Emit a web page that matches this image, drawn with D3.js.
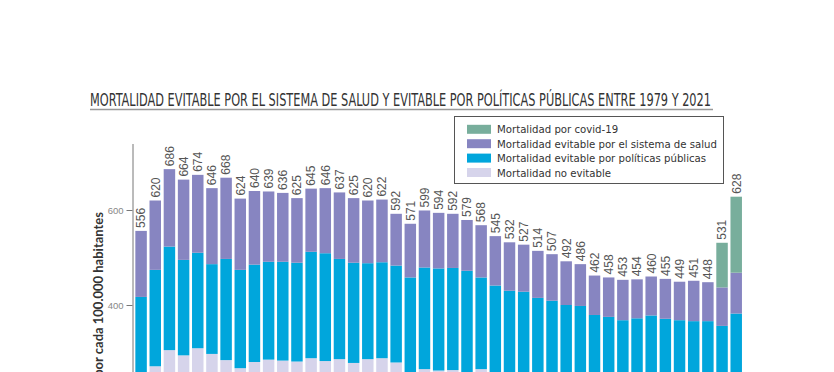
<!DOCTYPE html>
<html>
<head>
<meta charset="utf-8">
<script src="https://cdn.jsdelivr.net/npm/d3@7"></script>
<style>
    body { margin: 0; background: #fff; }
    svg { display: block; }
</style>
</head>
<body>
<div id="chart"></div>
<script>

// years on the x axis
const years = [1979, 1980, 1981, 1982, 1983, 1984, 1985, 1986, 1987, 1988, 1989, 1990, 1991, 1992, 1993,
    1994, 1995, 1996, 1997, 1998, 1999, 2000, 2001, 2002, 2003, 2004, 2005, 2006, 2007, 2008, 2009,
    2010, 2011, 2012, 2013, 2014, 2015, 2016, 2017, 2018, 2019, 2020, 2021];

// rates per 100.000 inhabitants
const noEvitable = [250, 271, 305, 294, 309, 297, 284, 267, 280, 285, 283, 281, 288, 282, 286,
    278, 286, 288, 279, 250, 265, 262, 263, 258, 265, 255, 252, 250, 248, 246, 245,
    243, 240, 238, 236, 235, 234, 232, 230, 229, 228, 226, 224];
const politicas = [167, 203, 218, 201, 201, 189, 213, 207, 205, 206, 208, 208, 224, 227, 211,
    211, 202, 202, 204, 208, 214, 215, 215, 214, 193, 186, 178, 178, 167, 163, 155,
    155, 139, 137, 132, 137, 144, 139, 138, 137, 138, 130, 158];
const sistema = [139, 146, 163, 169, 164, 160, 171, 150, 155, 148, 145, 136, 133, 137, 140,
    136, 132, 132, 109, 113, 120, 117, 114, 107, 110, 104, 102, 99, 99, 98, 92,
    88, 83, 83, 85, 82, 82, 84, 81, 85, 82, 81, 86];
const covid = [0, 0, 0, 0, 0, 0, 0, 0, 0, 0, 0, 0, 0, 0, 0,
    0, 0, 0, 0, 0, 0, 0, 0, 0, 0, 0, 0, 0, 0, 0, 0,
    0, 0, 0, 0, 0, 0, 0, 0, 0, 0, 94, 160];

// printed totals above each bar
const totals = [556, 620, 686, 664, 674, 646, 668, 624, 640, 639, 636, 625, 645, 646, 637,
    625, 620, 622, 592, 571, 599, 594, 592, 579, 568, 545, 532, 527, 514, 507, 492,
    486, 462, 458, 453, 454, 460, 455, 449, 451, 448, 531, 628];

const keys = ["noEvitable", "politicas", "sistema", "covid"];
const legendLabels = ["Mortalidad por covid-19", "Mortalidad evitable por el sistema de salud",
    "Mortalidad evitable por políticas públicas", "Mortalidad no evitable"];
const legendKeys = ["covid", "sistema", "politicas", "noEvitable"];
const yTicks = [400, 600];

const colors = {
    noEvitable: "#d6d4eb",
    politicas: "#00a6dc",
    sistema: "#8785c1",
    covid: "#78ae9c"
};

const width = 834, height = 372;

const svg = d3.select("#chart").append("svg")
    .attr("width", width)
    .attr("height", height)
    .style("overflow", "hidden");

// title
svg.append("text")
    .attr("x", 90)
    .attr("y", 105.5)
    .attr("textLength", 621)
    .attr("lengthAdjust", "spacingAndGlyphs")
    .style("font-family", "'Liberation Sans Narrow', 'DejaVu Sans Condensed', sans-serif")
    .style("font-size", "17.5px")
    .style("fill", "#333")
    .text("MORTALIDAD EVITABLE POR EL SISTEMA DE SALUD Y EVITABLE POR POLÍTICAS PÚBLICAS ENTRE 1979 Y 2021");

svg.append("line")
    .attr("x1", 90).attr("x2", 713)
    .attr("y1", 109.5).attr("y2", 109.5)
    .attr("stroke", "#999")
    .attr("stroke-width", 1.5);

// scales
const y = d3.scaleLinear()
    .domain([0, 740])
    .range([495, 143.5]);

const x = d3.scaleBand()
    .domain(years)
    .range([134, 743.3])
    .paddingInner(0.19)
    .paddingOuter(0.095);

// build table for the stack
const table = years.map((yr, i) => ({
    year: yr,
    noEvitable: noEvitable[i],
    politicas: politicas[i],
    sistema: sistema[i],
    covid: covid[i]
}));

const stacked = d3.stack().keys(keys)(table);

const layers = svg.append("g").attr("class", "bars")
    .selectAll("g")
    .data(stacked)
    .enter().append("g")
    .attr("fill", d => colors[d.key]);

layers.selectAll("rect")
    .data(d => d)
    .enter().append("rect")
    .attr("x", d => x(d.data.year))
    .attr("y", d => y(d[1]))
    .attr("width", x.bandwidth())
    .attr("height", d => y(d[0]) - y(d[1]));

// totals above bars
svg.append("g").attr("class", "labels")
    .selectAll("text")
    .data(years)
    .enter().append("text")
    .attr("transform", (d, i) => `translate(${x(d) + x.bandwidth() / 2}, ${y(totals[i]) - 3}) rotate(-90)`)
    .attr("dy", "0.36em")
    .style("font-family", "'Liberation Sans', Arial, sans-serif")
    .style("font-size", "12px")
    .style("fill", "#555")
    .text((d, i) => totals[i]);

// y axis
const yAxis = d3.axisLeft(y)
    .tickValues(yTicks)
    .tickSize(6)
    .tickSizeOuter(0);

const yAxisG = svg.append("g")
    .attr("class", "y-axis axis")
    .attr("transform", "translate(132.5,0)")
    .call(yAxis);

yAxisG.select(".domain").attr("stroke", "#777");
yAxisG.selectAll(".tick line").attr("stroke", "#777");
yAxisG.selectAll(".tick text")
    .attr("x", -9)
    .style("font-family", "'Liberation Sans', Arial, sans-serif")
    .style("font-size", "9.5px")
    .style("fill", "#888");

// axis title, its start runs below the visible area
svg.append("text")
    .attr("transform", "translate(98,212) rotate(-90)")
    .attr("text-anchor", "end")
    .attr("dy", "0.36em")
    .style("font-family", "Lato, 'Open Sans', sans-serif")
    .style("font-weight", "bold")
    .style("font-size", "13px")
    .style("fill", "#333")
    .text("por cada 100.000 habitantes");

// legend
const legend = svg.append("g").attr("class", "legend");

legend.append("rect")
    .attr("x", 454.5).attr("y", 116.5)
    .attr("width", 269).attr("height", 67)
    .attr("fill", "#fff")
    .attr("stroke", "#555");

legendKeys.forEach((k, i) => {
    let cy = 129.3 + i * 14.4;
    legend.append("rect")
        .attr("x", 467).attr("y", cy - 4.5)
        .attr("width", 24).attr("height", 9)
        .attr("fill", colors[k]);
    legend.append("text")
        .attr("x", 497).attr("y", cy)
        .attr("dy", "0.36em")
        .style("font-family", "'Liberation Sans Narrow', 'DejaVu Sans Condensed', sans-serif")
        .style("font-size", "11.3px")
        .style("fill", "#333")
        .text(legendLabels[i]);
});

</script>
</body>
</html>
